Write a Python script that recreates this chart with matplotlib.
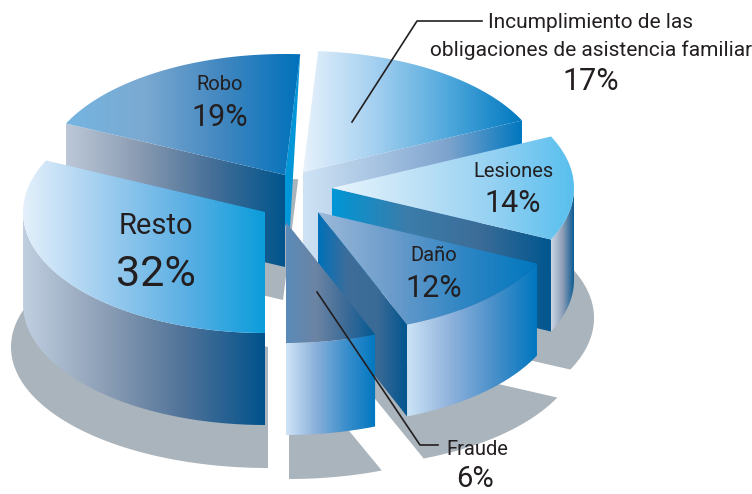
import numpy as np
import matplotlib

matplotlib.use("Agg")
import matplotlib.pyplot as plt  # noqa: E402
from matplotlib.colors import LinearSegmentedColormap  # noqa: E402
from matplotlib.patches import PathPatch, Polygon  # noqa: E402
from matplotlib.path import Path  # noqa: E402

# Data
categories = ["Incumplimiento", "Lesiones", "Daño", "Fraude", "Resto", "Robo"]
shares = [17, 14, 12, 6, 32, 19]

# Projection of the pie, pixels
START_ANGLE = 3.6
RX, RY = 242, 121
DEPTH = 92
SHADOW = "#aab4bc"

# Where each slice tip lands once exploded
tips = [(303, 172), (332, 188), (318, 212), (286, 222), (265, 212), (285, 175)]
shadow_tips = [None, (345, 318), (332, 346), (289, 358), (268, 347), (283, 300)]
shadow_rx = [0, 249, 249, 252, 257, 242]

top_colors = [
    ["#e6f1fb", "#a3cff0", "#4fa8dc", "#0078bf"],
    ["#e9f5fd", "#c0e2f7", "#95d1f2", "#58bfee"],
    ["#9bb9d9", "#6c9ccb", "#2f86c4", "#0077be"],
    ["#5b8bb9", "#6b84a4", "#3d6b97", "#005a94"],
    ["#e4f0fb", "#9fcdef", "#5db0e4", "#0b9ddb"],
    ["#74b5e1", "#7ba9d1", "#4187c0", "#0071bb"],
]
# Cut faces: which edge of the slice shows, and its colours
cut_faces = {
    "Incumplimiento": (1, ["#cfe3f4", "#a8c4e2", "#7da3cd", "#0077be"]),
    "Lesiones": (1, ["#0096d6", "#3a7dab", "#3d6d98", "#00568f"]),
    "Daño": (1, ["#0071b9", "#3e6d9a", "#3a6a96", "#00558f"]),
    "Robo": (0, ["#bcc8d8", "#8a9bb2", "#466f98", "#00558c"]),
}
rim_colors = {
    "Lesiones": ["#cbd7e6", "#8b9cb5", "#00568f"],
    "Daño": ["#cbe3f6", "#8fb2dc", "#4a90ca", "#0077c0"],
    "Fraude": ["#cfe4f6", "#8ab0da", "#3b8fcc", "#0077c0"],
    "Resto": ["#c0cfe0", "#8d9fb6", "#4f7298", "#00528c"],
}


def arc(tip, t0, t1, rx=RX, n=80):
    t = np.radians(np.linspace(t0, t1, n))
    return np.column_stack([tip[0] + rx * np.sin(t), tip[1] - RY * np.cos(t)])


def fill_gradient(ax, verts, colors, z):
    """Fill a closed outline with a left to right gradient"""
    verts = np.asarray(verts)
    patch = PathPatch(Path(np.vstack([verts, verts[0]])), fc="none", ec="none", zorder=z)
    ax.add_patch(patch)
    cmap = LinearSegmentedColormap.from_list("g", colors)
    x0, x1 = verts[:, 0].min(), verts[:, 0].max()
    y0, y1 = verts[:, 1].min(), verts[:, 1].max()
    im = ax.imshow(
        np.linspace(0, 1, 256).reshape(1, -1),
        cmap=cmap,
        extent=(x0, x1, y1, y0),
        aspect="auto",
        zorder=z,
        interpolation="bilinear",
    )
    im.set_clip_path(patch)


fig = plt.figure(figsize=(7.52, 4.94), dpi=100)
ax = fig.add_axes([0, 0, 1, 1])

edges = START_ANGLE + np.cumsum([0] + shares) * 3.6

# Shadows sit under everything
for i, tip in enumerate(shadow_tips):
    if tip is None:
        continue
    outline = np.vstack([[tip], arc(tip, edges[i], edges[i + 1], rx=shadow_rx[i])])
    ax.add_patch(Polygon(outline, closed=True, fc=SHADOW, ec="none", zorder=1))

# Back to front
order = ["Robo", "Incumplimiento", "Lesiones", "Daño", "Resto", "Fraude"]
z = 2
for name in order:
    i = categories.index(name)
    tip = np.array(tips[i], dtype=float)
    t0, t1 = edges[i], edges[i + 1]
    drop = np.array([0, DEPTH])

    if name in cut_faces:
        side, colors = cut_faces[name]
        corner = arc(tip, edges[i + side], edges[i + side], n=1)[0]
        fill_gradient(ax, [tip, corner, corner + drop, tip + drop], colors, z)
        z += 1
    if name == "Robo":
        # thin bright strip on the far cut of the slice
        far = arc(tip, t1, t1, n=1)[0]
        ax.add_patch(
            Polygon(
                [far, tip, tip + (0, 50), tip + (5, 53)],
                closed=True, fc="#0096d8", ec="none", zorder=z,
            )
        )
        z += 1
    if name in rim_colors:
        # only the part of the rim that faces the viewer
        rim = arc(tip, t0, 270) if name == "Resto" else arc(tip, max(t0, 90), t1)
        fill_gradient(ax, np.vstack([rim, (rim + drop)[::-1]]), rim_colors[name], z)
        z += 1
    outline = np.vstack([[tip], arc(tip, t0, t1)])
    fill_gradient(ax, outline, top_colors[i], z)
    z += 1

# Leader lines
ax.plot([352, 417, 482], [122, 21, 21], color="#231f20", lw=1.2, zorder=z)
ax.plot([317, 420, 438], [292, 445, 445], color="#231f20", lw=1.2, zorder=z)

# Labels
font = ["Roboto", "DejaVu Sans"]
labels = [
    (591, 23, "Incumplimiento de las", 15),
    (591, 50, "obligaciones de asistencia familiar", 15),
    (591, 82, "17%", 22),
    (513, 171, "Lesiones", 14.5),
    (513, 203, "14%", 22),
    (434, 255, "Daño", 14.5),
    (434, 288, "12%", 22),
    (220, 85, "Robo", 14.5),
    (220, 117, "19%", 22),
    (156, 226, "Resto", 21),
    (156, 274, "32%", 31),
    (477, 449, "Fraude", 14.5),
    (475, 479, "6%", 21),
]
for x, y, s, size in labels:
    ax.text(x, y, s, ha="center", va="center", fontsize=size, color="#231f20",
            family=font, zorder=z + 1)

ax.set_xlim(0, 752)
ax.set_ylim(494, 0)
ax.axis("off")
fig.savefig("out.png", dpi=100)
